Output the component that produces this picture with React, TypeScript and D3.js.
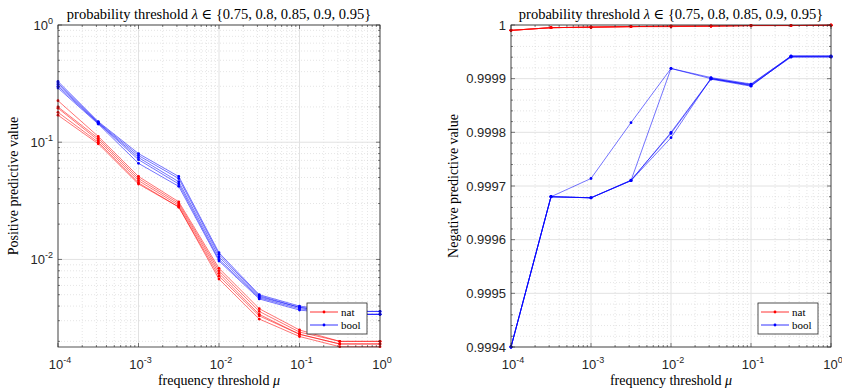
import * as d3 from "d3";

// frequency thresholds (x values, both panels)
const mu = [1e-4, 3.162e-4, 1e-3, 3.162e-3, 1e-2, 3.162e-2, 1e-1, 3.162e-1, 1];

// positive predictive value, one row per lambda
const ppvNat = [
  [0.226, 0.112, 0.051, 0.031, 0.0084, 0.0038, 0.0025, 0.002, 0.002],
  [0.2, 0.108, 0.049, 0.03, 0.008, 0.0036, 0.0024, 0.002, 0.002],
  [0.195, 0.104, 0.047, 0.029, 0.0076, 0.0034, 0.0023, 0.0019, 0.0019],
  [0.18, 0.1, 0.045, 0.028, 0.0072, 0.0033, 0.0023, 0.0019, 0.0019],
  [0.17, 0.097, 0.044, 0.028, 0.0068, 0.0031, 0.0022, 0.0018, 0.0018],
];
const ppvBool = [
  [0.33, 0.15, 0.08, 0.051, 0.0114, 0.005, 0.004, 0.0036, 0.0036],
  [0.32, 0.148, 0.077, 0.049, 0.011, 0.0049, 0.0039, 0.0036, 0.0036],
  [0.31, 0.146, 0.074, 0.046, 0.0105, 0.0048, 0.0039, 0.0034, 0.0034],
  [0.3, 0.145, 0.071, 0.044, 0.01, 0.0047, 0.0038, 0.0034, 0.0034],
  [0.29, 0.143, 0.066, 0.042, 0.0097, 0.0046, 0.0037, 0.0034, 0.0034],
];

// negative predictive value, one row per lambda
const npvNat = [
  [0.99999, 0.999995, 0.999996, 0.999997, 0.999997, 0.999998, 0.999999, 0.999999, 0.9999995],
  [0.99999, 0.999995, 0.999996, 0.999997, 0.999997, 0.999998, 0.999999, 0.999999, 0.9999995],
  [0.99999, 0.999995, 0.999996, 0.999997, 0.999998, 0.999998, 0.999999, 0.999999, 0.9999995],
  [0.99999, 0.999995, 0.999996, 0.999997, 0.999998, 0.999998, 0.999999, 0.999999, 0.9999995],
  [0.99999, 0.999995, 0.999996, 0.999997, 0.999998, 0.999998, 0.999999, 0.999999, 0.9999995],
];
const npvBool = [
  [0.9994, 0.99968, 0.999714, 0.999818, 0.999919, 0.999902, 0.99989, 0.999942, 0.999942],
  [0.9994, 0.99968, 0.999678, 0.99971, 0.999919, 0.9999, 0.999889, 0.999942, 0.999942],
  [0.9994, 0.99968, 0.999678, 0.99971, 0.9998, 0.9999, 0.999888, 0.99994, 0.99994],
  [0.9994, 0.99968, 0.999678, 0.99971, 0.99979, 0.999901, 0.999887, 0.999941, 0.999941],
  [0.9994, 0.99968, 0.999678, 0.999711, 0.999798, 0.999899, 0.999886, 0.999942, 0.999942],
];

const xTickExp = [-4, -3, -2, -1, 0];
const ppvTickExp = [-2, -1, 0];
const npvTicks = [0.9994, 0.9995, 0.9996, 0.9997, 0.9998, 0.9999, 1];
const legendLabels = ["nat", "bool"];
const colors = ["#ff0000", "#0000ff"];

const W = 842;
const H = 388;
const top = 25;
const bottom = 347;
const sansFont = "'Liberation Sans', Arial, sans-serif";
const serifFont = "'Liberation Serif', 'DejaVu Serif', serif";
const axisColor = "#262626";

type Props = {
  left: number;
  right: number;
  y: any;
  yMajor: number[];
  yMinor: number[];
  yLabel: (v: number) => any;
  series: number[][][];
  ylabelText: string;
  ylabelX: number;
};

function Panel({left, right, y, yMajor, yMinor, yLabel, series, ylabelText, ylabelX}: Props) {
  const x = d3.scaleLog().domain([1e-4, 1]).range([left, right]);
  const xMinor: number[] = [];
  for (let e = -4; e < 0; e++) for (let k = 2; k <= 9; k++) xMinor.push(k * Math.pow(10, e));
  const line = d3
    .line<number>()
    .x((_, i) => x(mu[i]))
    .y((d) => y(d));
  const lx = right - 73;
  const ly = 303;
  return (
    <g>
      <rect x={left} y={top} width={right - left} height={bottom - top} fill="#fff" />
      {/* minor grid */}
      {xMinor.map((v, i) => (
        <line key={"xm" + i} x1={x(v)} x2={x(v)} y1={top} y2={bottom} stroke="#d4d4d4" strokeWidth={0.6} strokeDasharray="1 2" />
      ))}
      {yMinor.map((v, i) => (
        <line key={"ym" + i} x1={left} x2={right} y1={y(v)} y2={y(v)} stroke="#d4d4d4" strokeWidth={0.6} strokeDasharray="1 2" />
      ))}
      {/* major grid */}
      {xTickExp.map((e) => (
        <line key={"xg" + e} x1={x(Math.pow(10, e))} x2={x(Math.pow(10, e))} y1={top} y2={bottom} stroke="#e2e2e2" strokeWidth={1} />
      ))}
      {yMajor.map((v, i) => (
        <line key={"yg" + i} x1={left} x2={right} y1={y(v)} y2={y(v)} stroke="#e2e2e2" strokeWidth={1} />
      ))}
      {/* data */}
      {series.map((group, gi) =>
        group.map((s, si) => (
          <g key={gi + "-" + si}>
            <path d={line(s) || ""} fill="none" stroke={colors[gi]} strokeWidth={0.55} />
            {s.map((v, i) => (
              <circle key={i} cx={x(mu[i])} cy={y(v)} r={1.4} fill={colors[gi]} />
            ))}
          </g>
        ))
      )}
      {/* ticks */}
      {xTickExp.map((e) => {
        const px = x(Math.pow(10, e));
        return (
          <g key={"xt" + e}>
            <line x1={px} x2={px} y1={bottom} y2={bottom - 4} stroke={axisColor} strokeWidth={0.6} />
            <line x1={px} x2={px} y1={top} y2={top + 4} stroke={axisColor} strokeWidth={0.6} />
            <text x={px + 2} y={369} textAnchor="middle" fontFamily={sansFont} fontSize={13} fill="#262626">
              10<tspan dy={-6} fontSize={9}>{e}</tspan>
            </text>
          </g>
        );
      })}
      {xMinor.map((v, i) => (
        <g key={"xmt" + i}>
          <line x1={x(v)} x2={x(v)} y1={bottom} y2={bottom - 2} stroke={axisColor} strokeWidth={0.6} />
          <line x1={x(v)} x2={x(v)} y1={top} y2={top + 2} stroke={axisColor} strokeWidth={0.6} />
        </g>
      ))}
      {yMajor.map((v, i) => (
        <g key={"yt" + i}>
          <line x1={left} x2={left + 4} y1={y(v)} y2={y(v)} stroke={axisColor} strokeWidth={0.6} />
          <line x1={right} x2={right - 4} y1={y(v)} y2={y(v)} stroke={axisColor} strokeWidth={0.6} />
          <text x={left - 5} y={y(v) + 4.5} textAnchor="end" fontFamily={sansFont} fontSize={13} fill="#262626">
            {yLabel(v)}
          </text>
        </g>
      ))}
      {yMinor.map((v, i) => (
        <g key={"ymt" + i}>
          <line x1={left} x2={left + 2} y1={y(v)} y2={y(v)} stroke={axisColor} strokeWidth={0.6} />
          <line x1={right} x2={right - 2} y1={y(v)} y2={y(v)} stroke={axisColor} strokeWidth={0.6} />
        </g>
      ))}
      <rect x={left} y={top} width={right - left} height={bottom - top} fill="none" stroke={axisColor} strokeWidth={0.8} />
      {/* title and labels */}
      <text x={(left + right) / 2} y={19} textAnchor="middle" fontFamily={serifFont} fontSize={14.5} fill="#000">
        probability threshold <tspan fontStyle="italic">λ</tspan> ∈ {"{0.75, 0.8, 0.85, 0.9, 0.95}"}
      </text>
      <text x={(left + right) / 2} y={385} textAnchor="middle" fontFamily={serifFont} fontSize={14} fill="#000">
        frequency threshold <tspan fontStyle="italic">μ</tspan>
      </text>
      <text
        transform={`translate(${ylabelX},${(top + bottom) / 2}) rotate(-90)`}
        textAnchor="middle"
        fontFamily={serifFont}
        fontSize={14}
        fill="#000"
      >
        {ylabelText}
      </text>
      {/* legend */}
      <rect x={lx} y={ly} width={60} height={31} fill="#fff" stroke={axisColor} strokeWidth={0.8} />
      {legendLabels.map((lab, i) => (
        <g key={lab}>
          <line x1={lx + 3} x2={lx + 31} y1={ly + 9 + i * 13} y2={ly + 9 + i * 13} stroke={colors[i]} strokeWidth={0.8} />
          <circle cx={lx + 17} cy={ly + 9 + i * 13} r={1.4} fill={colors[i]} />
          <text x={lx + 34} y={ly + 12.5 + i * 13} fontFamily={serifFont} fontSize={11} fill="#000">
            {lab}
          </text>
        </g>
      ))}
    </g>
  );
}

export default function App() {
  const yPpv = d3.scaleLog().domain([0.00179, 1]).range([bottom, top]);
  const ppvMinor: number[] = [];
  for (let e = -3; e < 0; e++)
    for (let k = 2; k <= 9; k++) {
      const v = k * Math.pow(10, e);
      if (v > 0.00179) ppvMinor.push(v);
    }
  const yNpv = d3.scaleLinear().domain([0.9994, 1]).range([bottom, top]);
  const npvMinor: number[] = [];
  for (let i = 0; i < 30; i++) if (i % 5 !== 0) npvMinor.push(0.9994 + i * 0.00002);

  return (
    <div style={{position: "absolute", left: 0, top: 0}}>
      <svg width={W} height={H} viewBox={`0 0 ${W} ${H}`} style={{display: "block", background: "#fff"}}>
        <Panel
          left={58}
          right={380}
          y={yPpv}
          yMajor={ppvTickExp.map((e) => Math.pow(10, e))}
          yMinor={ppvMinor}
          yLabel={(v) => {
            const e = Math.round(Math.log10(v));
            return (
              <>
                10<tspan dy={-6} fontSize={9}>{e}</tspan>
              </>
            );
          }}
          series={[ppvNat, ppvBool]}
          ylabelText="Positive predictive value"
          ylabelX={18}
        />
        <Panel
          left={511}
          right={831}
          y={yNpv}
          yMajor={npvTicks}
          yMinor={npvMinor}
          yLabel={(v) => (v === 1 ? "1" : v.toFixed(4))}
          series={[npvNat, npvBool]}
          ylabelText="Negative predictive value"
          ylabelX={458}
        />
      </svg>
    </div>
  );
}
